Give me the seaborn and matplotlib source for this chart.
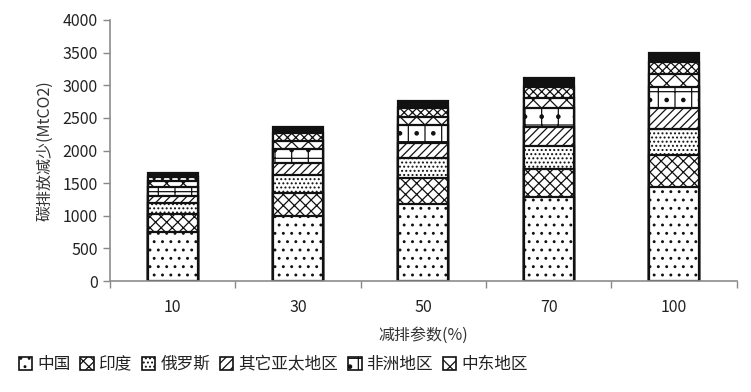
import matplotlib
matplotlib.use("Agg")
import matplotlib.pyplot as plt
import seaborn as sns
import pandas as pd
import numpy as np
from matplotlib.patches import Patch

categories = ["10", "30", "50", "70", "100"]
series_names = ["中国", "印度", "俄罗斯", "其它亚太地区", "非洲地区", "中东地区", "拉美地区", "其它地区"]
china = [756, 1001, 1180, 1282, 1446]
india = [266, 353, 394, 434, 485]
russia = [169, 271, 306, 353, 394]
other_ap = [112, 178, 240, 286, 321]
africa = [143, 215, 271, 291, 332]
middle_east = [92, 132, 127, 154, 189]
latam = [61, 113, 138, 178, 194]
others = [61, 92, 103, 128, 138]
series_values = [china, india, russia, other_ap, africa, middle_east, latam, others]
legend_count = 6

hatches = ["..", "xxx", "....", "////", "+.", "xx", "xxxx", "OOOOO"]
faces = ["white"] * 7 + ["#2a2a2a"]

sns.set_theme(style="white")
plt.rcParams['font.family'] = ['Noto Sans CJK SC', 'DejaVu Sans']
plt.rcParams['hatch.linewidth'] = 0.9

fig = plt.figure(figsize=(7.51, 3.92), dpi=100)
ax = fig.add_axes([0.1465, 0.283, 0.8345, 0.666])

cum = np.cumsum(np.array(series_values), axis=0)
# draw from top (cumulative) down so lower layers cover upper ones
for i in range(len(series_names) - 1, -1, -1):
    df = pd.DataFrame({"cat": categories, "val": cum[i]})
    sns.barplot(data=df, x="cat", y="val", ax=ax, width=0.4,
                color=faces[i], edgecolor="#111111", linewidth=1.6,
                hatch=hatches[i], errorbar=None, saturation=1)

ax.set_ylim(0, 4000)
ax.set_xlim(-0.5, len(categories) - 0.5)
ax.set_yticks(range(0, 4001, 500))
ax.tick_params(axis="y", which="major", labelsize=11.5, color="#888888", labelcolor="#222222",
               length=5, width=1, direction="out", left=True, pad=4)
ax.tick_params(axis="x", which="major", length=0, labelsize=11.5, labelcolor="#222222", pad=13)
ax.set_xticks(np.arange(-0.5, len(categories), 1.0), minor=True)
ax.tick_params(axis="x", which="minor", length=5, width=1, color="#888888", bottom=True, direction="out")

for s in ["top", "right"]:
    ax.spines[s].set_visible(False)
for s in ["left", "bottom"]:
    ax.spines[s].set_color("#8c8c8c")
    ax.spines[s].set_linewidth(1.2)

ax.set_ylabel("碳排放减少(MtCO2)", fontsize=11.5, color="#333333", labelpad=6)
ax.set_xlabel("减排参数(%)", fontsize=11.5, color="#333333", labelpad=8)

handles = [Patch(facecolor=faces[i], edgecolor="#111111", hatch=hatches[i], linewidth=1.2,
                 label=series_names[i]) for i in range(legend_count)]
fig.legend(handles=handles, loc="lower left", bbox_to_anchor=(0.005, 0.01), ncol=legend_count,
           frameon=False, fontsize=12, handlelength=0.8, handleheight=0.8,
           handletextpad=0.3, columnspacing=0.6, labelcolor="#222222")

fig.savefig("out.png", dpi=100)
